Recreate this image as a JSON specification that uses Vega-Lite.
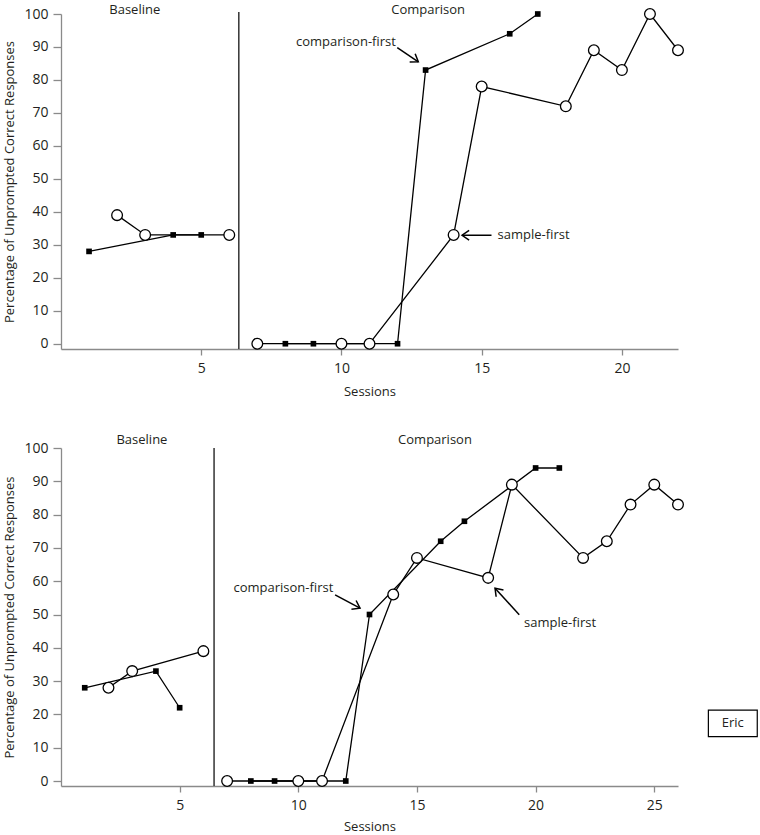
{
  "$schema": "https://vega.github.io/schema/vega-lite/v6.json",
  "padding": {"left": 3, "top": 3, "right": 0, "bottom": 0},
  "spacing": 35,
  "config": {
    "view": {"stroke": null},
    "font": "Open Sans",
    "axis": {
      "domainColor": "#8a8a8a", "tickColor": "#8a8a8a", "labelColor": "#231f20", "titleColor": "#231f20",
      "labelFont": "Open Sans", "titleFont": "Open Sans", "labelFontSize": 14, "titleFontSize": 13,
      "titleFontWeight": "normal", "grid": false, "domainWidth": 1.3, "tickWidth": 1.3
    }
  },
  "datasets": {
    "top": [
      {"session": 1, "pct": 28, "series": "comparison-first", "phase": "Baseline"},
      {"session": 4, "pct": 33, "series": "comparison-first", "phase": "Baseline"},
      {"session": 5, "pct": 33, "series": "comparison-first", "phase": "Baseline"},
      {"session": 8, "pct": 0, "series": "comparison-first", "phase": "Comparison"},
      {"session": 9, "pct": 0, "series": "comparison-first", "phase": "Comparison"},
      {"session": 12, "pct": 0, "series": "comparison-first", "phase": "Comparison"},
      {"session": 13, "pct": 83, "series": "comparison-first", "phase": "Comparison"},
      {"session": 16, "pct": 94, "series": "comparison-first", "phase": "Comparison"},
      {"session": 17, "pct": 100, "series": "comparison-first", "phase": "Comparison"},
      {"session": 2, "pct": 39, "series": "sample-first", "phase": "Baseline"},
      {"session": 3, "pct": 33, "series": "sample-first", "phase": "Baseline"},
      {"session": 6, "pct": 33, "series": "sample-first", "phase": "Baseline"},
      {"session": 7, "pct": 0, "series": "sample-first", "phase": "Comparison"},
      {"session": 10, "pct": 0, "series": "sample-first", "phase": "Comparison"},
      {"session": 11, "pct": 0, "series": "sample-first", "phase": "Comparison"},
      {"session": 14, "pct": 33, "series": "sample-first", "phase": "Comparison"},
      {"session": 15, "pct": 78, "series": "sample-first", "phase": "Comparison"},
      {"session": 18, "pct": 72, "series": "sample-first", "phase": "Comparison"},
      {"session": 19, "pct": 89, "series": "sample-first", "phase": "Comparison"},
      {"session": 20, "pct": 83, "series": "sample-first", "phase": "Comparison"},
      {"session": 21, "pct": 100, "series": "sample-first", "phase": "Comparison"},
      {"session": 22, "pct": 89, "series": "sample-first", "phase": "Comparison"}
    ],
    "bottom": [
      {"session": 1, "pct": 28, "series": "comparison-first", "phase": "Baseline"},
      {"session": 4, "pct": 33, "series": "comparison-first", "phase": "Baseline"},
      {"session": 5, "pct": 22, "series": "comparison-first", "phase": "Baseline"},
      {"session": 8, "pct": 0, "series": "comparison-first", "phase": "Comparison"},
      {"session": 9, "pct": 0, "series": "comparison-first", "phase": "Comparison"},
      {"session": 12, "pct": 0, "series": "comparison-first", "phase": "Comparison"},
      {"session": 13, "pct": 50, "series": "comparison-first", "phase": "Comparison"},
      {"session": 16, "pct": 72, "series": "comparison-first", "phase": "Comparison"},
      {"session": 17, "pct": 78, "series": "comparison-first", "phase": "Comparison"},
      {"session": 20, "pct": 94, "series": "comparison-first", "phase": "Comparison"},
      {"session": 21, "pct": 94, "series": "comparison-first", "phase": "Comparison"},
      {"session": 2, "pct": 28, "series": "sample-first", "phase": "Baseline"},
      {"session": 3, "pct": 33, "series": "sample-first", "phase": "Baseline"},
      {"session": 6, "pct": 39, "series": "sample-first", "phase": "Baseline"},
      {"session": 7, "pct": 0, "series": "sample-first", "phase": "Comparison"},
      {"session": 10, "pct": 0, "series": "sample-first", "phase": "Comparison"},
      {"session": 11, "pct": 0, "series": "sample-first", "phase": "Comparison"},
      {"session": 14, "pct": 56, "series": "sample-first", "phase": "Comparison"},
      {"session": 15, "pct": 67, "series": "sample-first", "phase": "Comparison"},
      {"session": 18, "pct": 61, "series": "sample-first", "phase": "Comparison"},
      {"session": 19, "pct": 89, "series": "sample-first", "phase": "Comparison"},
      {"session": 22, "pct": 67, "series": "sample-first", "phase": "Comparison"},
      {"session": 23, "pct": 72, "series": "sample-first", "phase": "Comparison"},
      {"session": 24, "pct": 83, "series": "sample-first", "phase": "Comparison"},
      {"session": 25, "pct": 89, "series": "sample-first", "phase": "Comparison"},
      {"session": 26, "pct": 83, "series": "sample-first", "phase": "Comparison"}
    ]
  },
  "vconcat": [
    {
      "width": 617, "height": 335,
      "data": {"name": "top"},
      "encoding": {
        "x": {"field": "session", "type": "quantitative", "scale": {"domain": [0, 22], "nice": false, "zero": false},
              "axis": {"values": [5, 10, 15, 20], "title": "Sessions", "tickSize": 6, "labelPadding": 6, "titlePadding": 10}},
        "y": {"field": "pct", "type": "quantitative", "scale": {"domain": [-1.6, 100], "nice": false, "zero": false},
              "axis": {"values": [0, 10, 20, 30, 40, 50, 60, 70, 80, 90, 100], "title": "Percentage of Unprompted Correct Responses", "tickSize": 8, "labelPadding": 5, "titlePadding": 7}}
      },
      "layer": [
        {"data": {"values": [{"session": 6.34, "pct": 100.6, "pct2": -1.6}]},
         "mark": {"type": "rule", "color": "#333333", "strokeWidth": 1.5},
         "encoding": {"y2": {"field": "pct2"}}},
        {"mark": {"type": "line", "color": "black", "strokeWidth": 1.3},
         "encoding": {"detail": [{"field": "series"}, {"field": "phase"}]}},
        {"transform": [{"filter": "datum.series == 'comparison-first'"}],
         "mark": {"type": "square", "size": 32, "color": "black", "opacity": 1}},
        {"transform": [{"filter": "datum.series == 'sample-first'"}],
         "mark": {"type": "point", "shape": "circle", "size": 115, "filled": true, "fill": "white", "stroke": "black", "strokeWidth": 1.3, "opacity": 1}},
        {"data": {"values": [
            {"label": "Baseline", "session": 2.63, "pct": 101.3},
            {"label": "Comparison", "session": 13.09, "pct": 101.3},
            {"label": "comparison-first", "session": 10.16, "pct": 91.6},
            {"label": "sample-first", "session": 16.85, "pct": 32.9}
          ]},
         "mark": {"type": "text", "font": "Open Sans", "fontSize": 13, "color": "#231f20", "baseline": "middle", "align": "center"},
         "encoding": {"text": {"field": "label"}}},
        {"data": {"values": [
            {"session": 12.74, "pct": 85.5, "session2": 11.99, "pct2": 89.77, "angle": 33.7},
            {"session": 14.30, "pct": 32.9, "session2": 15.35, "pct2": 32.9, "angle": 180}
          ]},
         "layer": [
           {"mark": {"type": "rule", "color": "black", "strokeWidth": 1.5},
            "encoding": {"x2": {"field": "session2"}, "y2": {"field": "pct2"}}},
           {"mark": {"type": "point", "shape": "M-1,-0.7L0,0L-1,0.7", "size": 200, "filled": false, "stroke": "black", "strokeWidth": 1.5, "opacity": 1},
            "encoding": {"angle": {"field": "angle", "type": "quantitative", "scale": null}}}
         ]}
      ]
    },
    {
      "width": 617, "height": 338,
      "data": {"name": "bottom"},
      "encoding": {
        "x": {"field": "session", "type": "quantitative", "scale": {"domain": [0, 26], "nice": false, "zero": false},
              "axis": {"values": [5, 10, 15, 20, 25], "title": "Sessions", "tickSize": 6, "labelPadding": 6, "titlePadding": 8}},
        "y": {"field": "pct", "type": "quantitative", "scale": {"domain": [-1.5, 100], "nice": false, "zero": false},
              "axis": {"values": [0, 10, 20, 30, 40, 50, 60, 70, 80, 90, 100], "title": "Percentage of Unprompted Correct Responses", "tickSize": 8, "labelPadding": 5, "titlePadding": 7}}
      },
      "layer": [
        {"data": {"values": [{"session": 6.45, "pct": 100, "pct2": -1.5}]},
         "mark": {"type": "rule", "color": "#333333", "strokeWidth": 1.5},
         "encoding": {"y2": {"field": "pct2"}}},
        {"mark": {"type": "line", "color": "black", "strokeWidth": 1.3},
         "encoding": {"detail": [{"field": "series"}, {"field": "phase"}]}},
        {"transform": [{"filter": "datum.series == 'comparison-first'"}],
         "mark": {"type": "square", "size": 32, "color": "black", "opacity": 1}},
        {"transform": [{"filter": "datum.series == 'sample-first'"}],
         "mark": {"type": "point", "shape": "circle", "size": 115, "filled": true, "fill": "white", "stroke": "black", "strokeWidth": 1.3, "opacity": 1}},
        {"data": {"values": [{"session": 27.28, "session2": 29.34, "pct": 21.3, "pct2": 13.3}]},
         "mark": {"type": "rect", "fill": "white", "stroke": "black", "strokeWidth": 1.2},
         "encoding": {"x2": {"field": "session2"}, "y2": {"field": "pct2"}}},
        {"data": {"values": [
            {"label": "Baseline", "session": 3.41, "pct": 102.5},
            {"label": "Comparison", "session": 15.76, "pct": 102.5},
            {"label": "comparison-first", "session": 9.37, "pct": 57.9},
            {"label": "sample-first", "session": 21.03, "pct": 47.4},
            {"label": "Eric", "session": 28.31, "pct": 17.4}
          ]},
         "mark": {"type": "text", "font": "Open Sans", "fontSize": 13, "color": "#231f20", "baseline": "middle", "align": "center"},
         "encoding": {"text": {"field": "label"}}},
        {"data": {"values": [
            {"session": 12.60, "pct": 51.9, "session2": 11.55, "pct2": 55.9, "angle": 28},
            {"session": 18.29, "pct": 57.9, "session2": 19.31, "pct2": 49.9, "angle": 227.7}
          ]},
         "layer": [
           {"mark": {"type": "rule", "color": "black", "strokeWidth": 1.5},
            "encoding": {"x2": {"field": "session2"}, "y2": {"field": "pct2"}}},
           {"mark": {"type": "point", "shape": "M-1,-0.7L0,0L-1,0.7", "size": 200, "filled": false, "stroke": "black", "strokeWidth": 1.5, "opacity": 1},
            "encoding": {"angle": {"field": "angle", "type": "quantitative", "scale": null}}}
         ]}
      ]
    }
  ]
}
